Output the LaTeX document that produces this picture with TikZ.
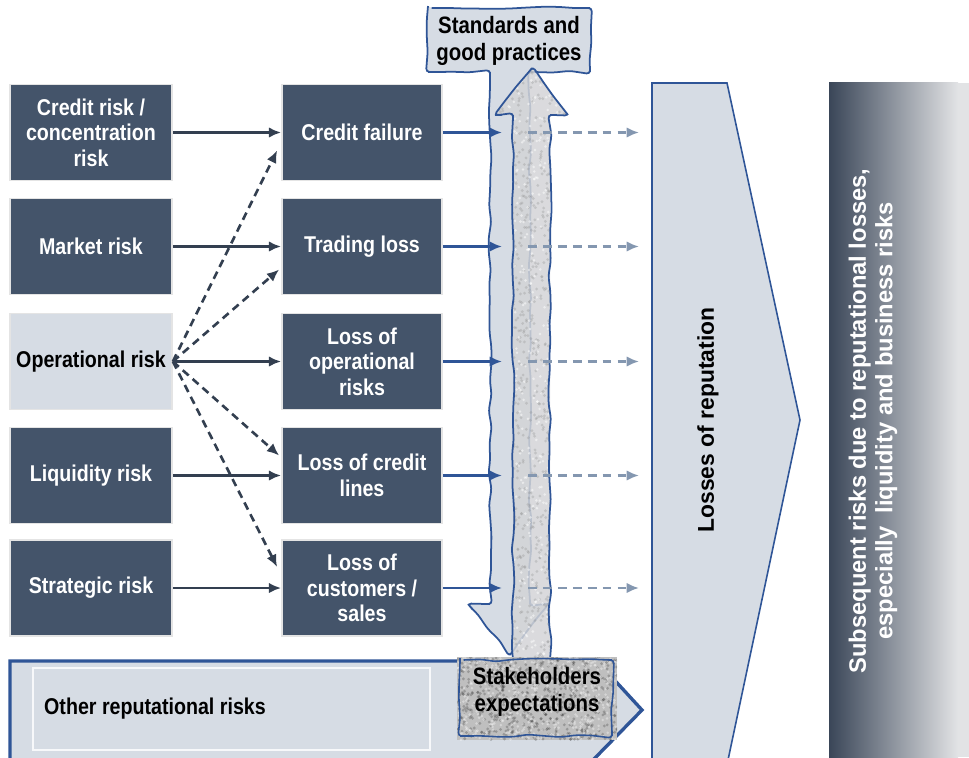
\documentclass[tikz,border=0pt]{standalone}
\usepackage{fontspec}
\setmainfont{Liberation Sans}
\newfontfamily\narrowfont[FakeStretch=0.86]{Liberation Sans}
\usetikzlibrary{calc,arrows.meta,decorations.pathmorphing}
\definecolor{slate}{HTML}{44546A}
\definecolor{paleblue}{HTML}{D6DCE4}
\definecolor{edgeblue}{HTML}{2F5597}
\definecolor{arrowdark}{HTML}{333F50}
\definecolor{dashblue}{HTML}{8497B0}
\definecolor{boxrim}{HTML}{E4E4E4}
\definecolor{barleft}{HTML}{3A4658}
\definecolor{barright}{HTML}{E2E3E5}
\definecolor{speckle}{HTML}{D3D4D7}
\begin{document}
\begin{tikzpicture}[>={Latex[length=7pt,width=6pt]},x=0.02cm,y=-0.02cm,
  riskbox/.style={draw=boxrim,line width=1pt,fill=slate,text=white,align=center,
    minimum width=3.24cm,minimum height=1.92cm,inner sep=2pt,
    font=\narrowfont\bfseries\fontsize{13}{14.5}\selectfont},
  lossbox/.style={riskbox,minimum width=3.2cm},
  sketch/.style={decorate,decoration={random steps,segment length=9pt,amplitude=0.9pt},rounded corners=2pt},
  solidarr/.style={->,draw=arrowdark,fill=arrowdark,line width=1.5pt},
  dasharr/.style={->,draw=arrowdark,line width=1.5pt,dash pattern=on 4.5pt off 3pt},
  bluearr/.style={->,draw=edgeblue,line width=1.5pt},
  fadearr/.style={->,draw=dashblue,line width=1.5pt,dash pattern=on 5pt off 3.5pt}]
	\useasboundingbox (0,0) rectangle (969,757);
	\clip (0,0) rectangle (969,757);
	% bottom chevron
	\filldraw[fill=paleblue,draw=edgeblue,line width=1.9pt,line join=miter](10,760)--(10,661)--(597,661)--(642,710)--(593,760);
	\draw[draw=white!80!paleblue,line width=0.8pt](33,668) rectangle (430,750);
	\node[anchor=west,font=\narrowfont\bfseries\fontsize{13}{14.5}\selectfont] (other) at (38,709) {Other reputational risks};
	% losses of reputation
	\filldraw[fill=paleblue,draw=edgeblue,line width=0.9pt](652,760)--(652,83)--(727,83)--(800,420)--(728,760);
	\node[rotate=90,font=\bfseries\fontsize{13}{15}\selectfont] (rep) at (708,420) {Losses of reputation};
	% subsequent risks
	\shade[left color=barleft,right color=barright](829,83) rectangle (958,757);
	\fill[barright](958,83) rectangle (969,757);
	\node[rotate=90,text=white,align=center,font=\bfseries\fontsize{13.5}{15}\selectfont] (subseq) at (873,421)
		{Subsequent risks due to reputational losses,\\especially\ \ liquidity and business risks};
	% risk types
	\node[riskbox] (crisk) at (91,132.5) {Credit risk /\\concentration\\risk};
	\node[riskbox] (mrisk) at (91,246.5) {Market risk};
	\node[riskbox,fill=paleblue,text=black] (orisk) at (91,361.5) {Operational risk};
	\node[riskbox] (lrisk) at (91,475.5) {Liquidity risk};
	\node[riskbox] (srisk) at (91,588) {Strategic risk};
	% loss events
	\node[lossbox] (cfail) at (362,132.5) {Credit failure};
	\node[lossbox] (tloss) at (362,246.5) {Trading loss};
	\node[lossbox] (oloss) at (362,361.5) {Loss of\\operational\\risks};
	\node[lossbox] (closs) at (362,475.5) {Loss of credit\\lines};
	\node[lossbox] (sloss) at (362,588) {Loss of\\customers /\\sales};
	\draw[solidarr](crisk.east)--(cfail.west);
	\draw[solidarr](mrisk.east)--(tloss.west);
	\draw[solidarr](orisk.east)--(oloss.west);
	\draw[solidarr](lrisk.east)--(closs.west);
	\draw[solidarr](srisk.east)--(sloss.west);
	\draw[dasharr](orisk.east)--($(cfail.west)+(-4,18)$);
	\draw[dasharr](orisk.east)--($(tloss.west)+(-2,23)$);
	\draw[dasharr](orisk.east)--($(closs.west)+(-2,-20)$);
	\draw[dasharr](orisk.east)--($(sloss.west)+(-4,-21)$);
	% standards (down) arrow
	\pgfmathsetseed{11}
	\filldraw[sketch,fill=paleblue,draw=edgeblue,line width=1pt]
		(428,8)--(590,8)--(590,72)--(530,72)--(530,604)--(548,604)--(510,655)--(468,604)--(490,604)--(490,72)--(428,72)--cycle;
	\node[align=center,font=\narrowfont\bfseries\fontsize{13.5}{15}\selectfont] (std) at (509,41) {Standards and\\good practices};
	% expectations (up) arrow
	\fill[speckle,opacity=0.85](513,660)--(513,115)--(495,115)--(532,68)--(568,115)--(550,115)--(550,660)--cycle;
	\begin{scope}
		\clip(513,660)--(513,115)--(495,115)--(532,68)--(568,115)--(550,115)--(550,660)--cycle;
		\foreach \i in {1,...,900}
			\fill[gray,opacity=0.25]({495+73*rnd},{68+592*rnd}) circle (0.9pt);
		\foreach \i in {1,...,500}
			\fill[white,opacity=0.5]({495+73*rnd},{68+592*rnd}) circle (0.8pt);
	\end{scope}
	\draw[sketch,draw=edgeblue,line width=1pt](513,660)--(513,115)--(495,115)--(532,68)--(568,115)--(550,115)--(550,660);
	% stakeholders box
	\fill[gray!50](457,657) rectangle (617,740);
	\begin{scope}
		\clip(457,657) rectangle (617,740);
		\foreach \i in {1,...,600}
			\fill[black,opacity=0.2]({457+160*rnd},{657+83*rnd}) circle (0.9pt);
		\foreach \i in {1,...,500}
			\fill[white,opacity=0.35]({457+160*rnd},{657+83*rnd}) circle (0.8pt);
	\end{scope}
	\draw[sketch,draw=edgeblue,line width=0.9pt](460,660)--(612,660)--(612,736)--(460,736)--cycle;
	\node[align=center,font=\narrowfont\bfseries\fontsize{13.5}{15}\selectfont] (stake) at (537,692) {Stakeholders\\expectations};
	% into and out of the band
	\coordinate (bandin) at (502,0);
	\coordinate (bandout) at (528,0);
	\coordinate (repin) at (639,0);
	\draw[bluearr](cfail.east)--(cfail.east-|bandin);
	\draw[bluearr](tloss.east)--(tloss.east-|bandin);
	\draw[bluearr](oloss.east)--(oloss.east-|bandin);
	\draw[bluearr](closs.east)--(closs.east-|bandin);
	\draw[bluearr](sloss.east)--(sloss.east-|bandin);
	\draw[fadearr](cfail.east-|bandout)--(cfail.east-|repin);
	\draw[fadearr](tloss.east-|bandout)--(tloss.east-|repin);
	\draw[fadearr](oloss.east-|bandout)--(oloss.east-|repin);
	\draw[fadearr](closs.east-|bandout)--(closs.east-|repin);
	\draw[fadearr](sloss.east-|bandout)--(sloss.east-|repin);
\end{tikzpicture}
\end{document}
